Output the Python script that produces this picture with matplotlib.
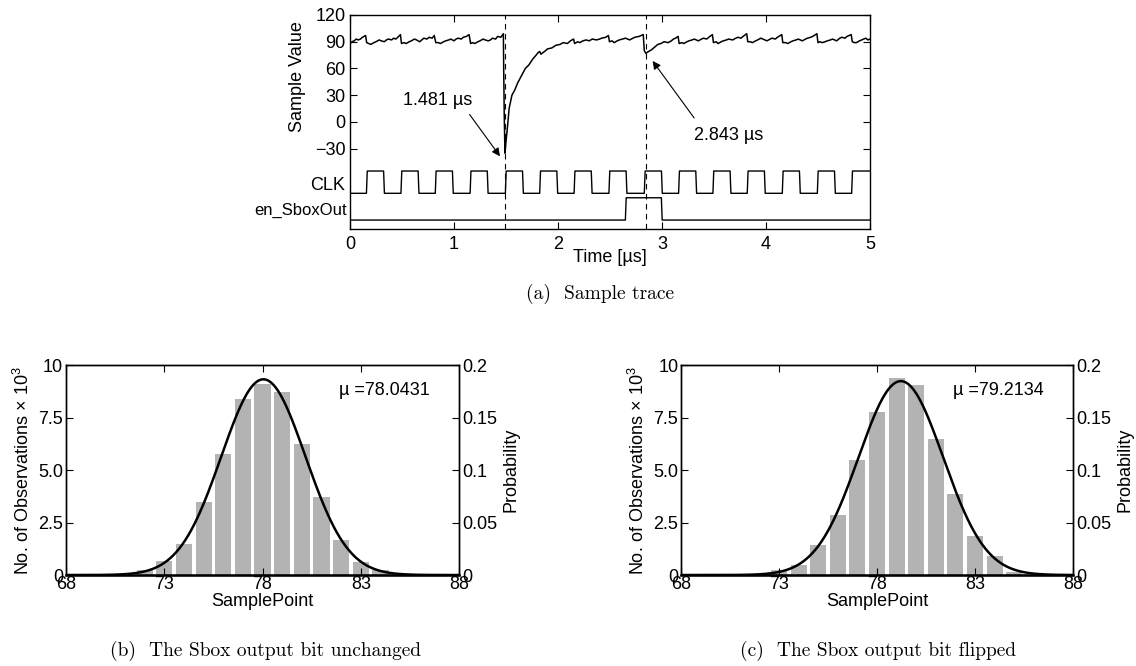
import numpy as np
import matplotlib.pyplot as plt

plt.rcParams['font.family'] = ['Liberation Sans', 'DejaVu Sans']
plt.rcParams['mathtext.fontset'] = 'custom'
plt.rcParams['mathtext.rm'] = 'Liberation Sans'
plt.rcParams['mathtext.it'] = 'Liberation Sans:italic'
plt.rcParams['font.size'] = 13

# ---- (a) sample trace ----
trace_t = [0.0, 0.02, 0.04, 0.06, 0.08, 0.1, 0.12, 0.15,
           0.16, 0.18, 0.2, 0.23, 0.25, 0.28, 0.3, 0.33, 0.35, 0.37, 0.4, 0.42, 0.44, 0.46, 0.485,
           0.495, 0.52, 0.54, 0.57, 0.59, 0.62, 0.64, 0.67, 0.69, 0.71, 0.74, 0.76, 0.79, 0.81,
           0.825, 0.85, 0.87, 0.9, 0.92, 0.95, 0.97, 1.0, 1.02, 1.04, 1.07, 1.09, 1.12, 1.145,
           1.16, 1.18, 1.2, 1.23, 1.25, 1.28, 1.3, 1.33, 1.35, 1.37, 1.4, 1.42, 1.45, 1.475,
           1.478, 1.483, 1.49, 1.5, 1.515, 1.53, 1.557, 1.585, 1.613, 1.65, 1.686, 1.72, 1.76,
           1.79, 1.81, 1.825, 1.835, 1.87, 1.9, 1.94, 1.98, 2.02, 2.05, 2.09, 2.12, 2.15,
           2.16, 2.19, 2.21, 2.24, 2.27, 2.3, 2.33, 2.37, 2.4, 2.42, 2.46, 2.485,
           2.495, 2.52, 2.54, 2.57, 2.59, 2.62, 2.65, 2.69, 2.72, 2.74, 2.78, 2.82,
           2.83, 2.845, 2.87, 2.9, 2.93, 2.96, 2.99, 3.02, 3.06, 3.09, 3.11, 3.13, 3.155,
           3.165, 3.19, 3.21, 3.24, 3.26, 3.29, 3.31, 3.35, 3.38, 3.4, 3.43, 3.45, 3.485,
           3.495, 3.52, 3.54, 3.57, 3.59, 3.62, 3.64, 3.68, 3.71, 3.73, 3.76, 3.78, 3.815,
           3.825, 3.85, 3.87, 3.9, 3.92, 3.95, 3.97, 4.01, 4.04, 4.06, 4.09, 4.11, 4.152,
           4.162, 4.19, 4.21, 4.24, 4.26, 4.29, 4.31, 4.35, 4.38, 4.4, 4.43, 4.45, 4.49,
           4.5, 4.52, 4.54, 4.57, 4.59, 4.62, 4.64, 4.68, 4.71, 4.73, 4.76, 4.78, 4.82,
           4.83, 4.85, 4.87, 4.9, 4.92, 4.94, 4.96, 4.98, 5.0]
trace_v = [88, 90, 91, 93, 92, 93, 95, 97,
           89, 88, 87, 89, 90, 92, 91, 90, 92, 93, 92, 94, 93, 95, 98,
           88, 89, 88, 90, 91, 93, 92, 90, 92, 94, 93, 95, 94, 97,
           89, 89, 88, 90, 91, 92, 93, 91, 93, 94, 93, 95, 96, 98,
           88, 89, 88, 90, 91, 93, 92, 91, 92, 94, 93, 96, 95, 99,
           60, 10, -35, -22, -5, 15, 30, 36, 44, 52, 60, 64, 71,
           75, 78, 79, 76, 79, 82, 83, 86, 87, 89, 88, 91, 93,
           88, 90, 89, 91, 92, 91, 93, 92, 93, 94, 95, 97,
           90, 91, 89, 91, 92, 93, 94, 92, 94, 95, 96, 98,
           80, 77, 79, 81, 84, 87, 88, 90, 89, 91, 93, 94, 96,
           88, 89, 88, 90, 91, 92, 93, 91, 93, 94, 93, 95, 98,
           89, 90, 88, 90, 91, 92, 93, 92, 94, 95, 94, 96, 99,
           90, 90, 89, 91, 92, 94, 93, 91, 93, 94, 93, 95, 98,
           89, 89, 88, 90, 91, 92, 93, 91, 93, 94, 95, 96, 99,
           89, 90, 89, 90, 91, 92, 93, 91, 94, 95, 94, 96, 98,
           90, 89, 89, 91, 92, 93, 94, 92, 93]

clk_rise = [0.158, 0.49, 0.82, 1.155, 1.494, 1.824, 2.155, 2.49, 2.83,
            3.16, 3.49, 3.82, 4.157, 4.494, 4.824]
clk_fall = [0.323, 0.655, 0.985, 1.32, 1.659, 1.989, 2.32, 2.655, 2.995,
            3.325, 3.655, 3.985, 4.322, 4.659]
clk_lo, clk_hi = -80, -55

en_rise, en_fall = 2.648, 2.994
en_lo, en_hi = -110, -85

marks = [1.49, 2.843]

# ---- (b), (c) histograms ----
bins_b = [72, 73, 74, 75, 76, 77, 78, 79, 80, 81, 82, 83, 84]
counts_b = [0.24, 0.66, 1.49, 3.47, 5.78, 8.37, 9.08, 8.72, 6.22, 3.70, 1.66, 0.60, 0.22]
mu_b, sigma_b = 78.0431, 2.14

bins_c = [73, 74, 75, 76, 77, 78, 79, 80, 81, 82, 83, 84, 85]
counts_c = [0.22, 0.49, 1.41, 2.88, 5.49, 7.77, 9.40, 9.05, 6.49, 3.88, 1.88, 0.89, 0.15]
mu_c, sigma_c = 79.2134, 2.16


def edge_wave(t_up, t_down, lo, hi, t_end=5.0, ramp=0.008):
    xs, ys = [0.0], [lo]
    for k, r in enumerate(t_up):
        xs += [r, r + ramp]
        ys += [lo, hi]
        if k < len(t_down):
            f = t_down[k]
            xs += [f, f + ramp]
            ys += [hi, lo]
    xs.append(t_end)
    ys.append(ys[-1])
    return xs, ys


fig = plt.figure(figsize=(11.36, 6.66), dpi=100)

ax = fig.add_axes([0.3081, 0.6562, 0.4577, 0.3213])
ax.plot(trace_t, trace_v, color='k', lw=1.1)
cx, cy = edge_wave(clk_rise, clk_fall, clk_lo, clk_hi)
ax.plot(cx, cy, color='k', lw=1.0)
ex, ey = edge_wave([en_rise], [en_fall], en_lo, en_hi)
ax.plot(ex, ey, color='k', lw=1.0)
for m in marks:
    ax.axvline(m, color='k', lw=0.8, ls=(0, (5, 4)))

ax.set_xlim(0, 5)
ax.set_ylim(-120, 120)
ax.set_xticks([0, 1, 2, 3, 4, 5])
ax.set_yticks([-30, 0, 30, 60, 90, 120])
ax.set_yticklabels(['\u221230', '0', '30', '60', '90', '120'])
ax.tick_params(direction='in', top=True, right=True, length=5, width=0.8)
ax.tick_params(axis='x', pad=5)
ax.tick_params(axis='y', pad=3)
ax.set_xlabel('Time [\u00b5s]', labelpad=-3)
ax.set_ylabel('Sample Value')
ax.yaxis.set_label_coords(-0.085, 0.71)
ax.text(-0.05, -71, 'CLK', ha='right', va='center')
ax.text(-0.03, -99, 'en_SboxOut', ha='right', va='center', fontsize=12)

ax.annotate('', xy=(1.458, -41), xytext=(1.134, 11),
            arrowprops=dict(arrowstyle='-|>', color='k', lw=0.8, mutation_scale=12))
ax.text(0.84, 24, '1.481 \u00b5s', ha='center', va='center')
ax.annotate('', xy=(2.894, 71), xytext=(3.325, 2),
            arrowprops=dict(arrowstyle='-|>', color='k', lw=0.8, mutation_scale=12))
ax.text(3.64, -15, '2.843 \u00b5s', ha='center', va='center')
for s in ax.spines.values():
    s.set_linewidth(1.0)


def hist_panel(rect, bins, counts, mu, sigma):
    a = fig.add_axes(rect)
    a.bar(bins, counts, width=0.82, color='#b3b3b3', edgecolor='none')
    a.set_xlim(68, 88)
    a.set_ylim(0, 10)
    a.set_xticks([68, 73, 78, 83, 88])
    a.set_yticks([0, 2.5, 5, 7.5, 10])
    a.set_yticklabels(['0', '2.5', '5.0', '7.5', '10'])
    a.tick_params(direction='in', top=True, length=5, width=0.8)
    a.tick_params(axis='x', pad=1)
    a.tick_params(axis='y', pad=2)
    a.set_xlabel('SamplePoint', labelpad=0)
    a.set_ylabel(r'No. of Observations$\,\times\,10^3$', labelpad=4)
    a.text(81.9, 8.8, '\u00b5 =%.4f' % mu, ha='left', va='center')
    a2 = a.twinx()
    xs = np.linspace(68, 88, 400)
    pdf = np.exp(-(xs - mu) ** 2 / (2 * sigma ** 2)) / (sigma * np.sqrt(2 * np.pi))
    a2.plot(xs, pdf, color='k', lw=1.8)
    a2.set_ylim(0, 0.2)
    a2.set_yticks([0, 0.05, 0.1, 0.15, 0.2])
    a2.set_yticklabels(['0', '0.05', '0.1', '0.15', '0.2'])
    a2.tick_params(direction='in', length=5, width=0.8, pad=2)
    a2.set_ylabel('Probability', labelpad=4)
    for s in list(a.spines.values()) + list(a2.spines.values()):
        s.set_linewidth(1.0)
    a.spines['bottom'].set_linewidth(1.8)
    return a


hist_panel([0.0581, 0.1366, 0.3460, 0.3153], bins_b, counts_b, mu_b, sigma_b)
hist_panel([0.5995, 0.1366, 0.3451, 0.3153], bins_c, counts_c, mu_c, sigma_c)

cap = dict(family='cmr10', fontsize=14, ha='center', va='center')
fig.text(600 / 1136, 1 - 294 / 666, '(a)  Sample trace', **cap)
fig.text(266 / 1136, 1 - 651 / 666, '(b)  The Sbox output bit unchanged', **cap)
fig.text(878 / 1136, 1 - 651 / 666, '(c)  The Sbox output bit flipped', **cap)

fig.savefig('out.png', dpi=100)
